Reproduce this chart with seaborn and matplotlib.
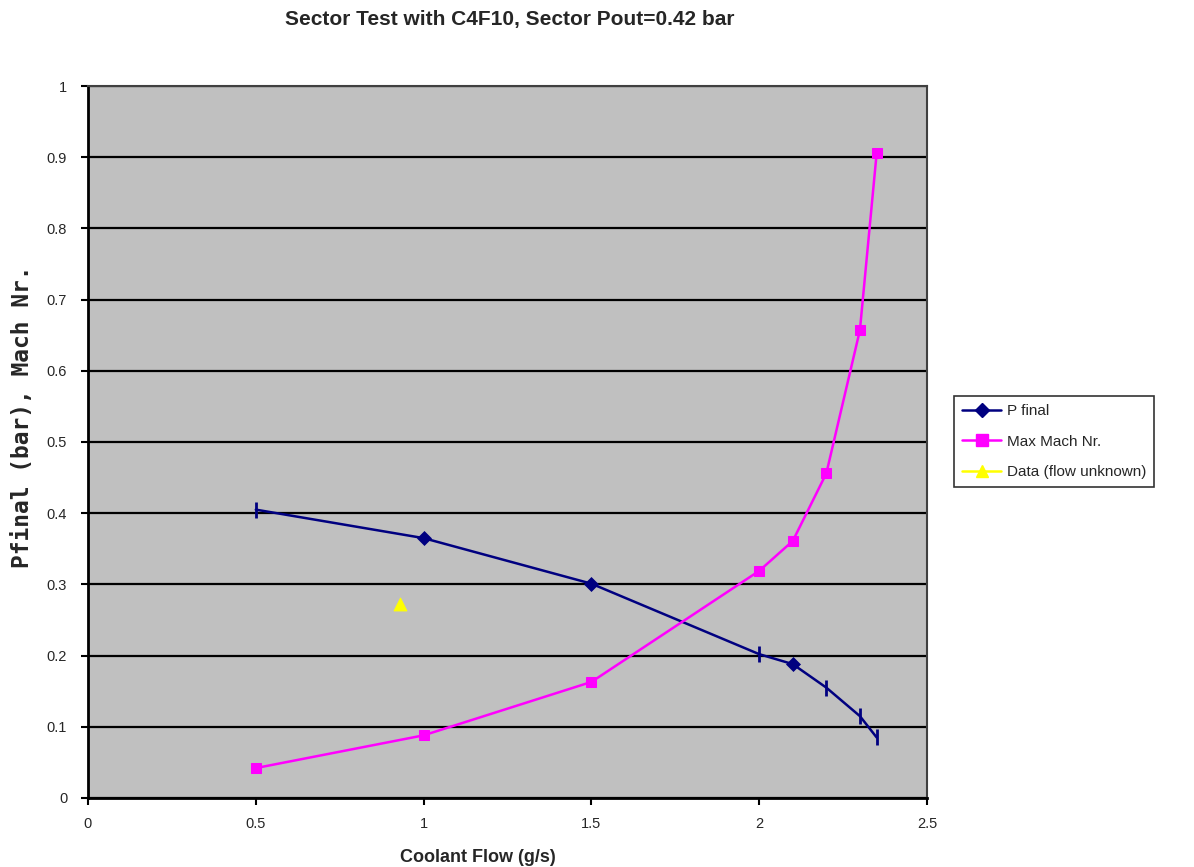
import matplotlib
matplotlib.use("Agg")
import matplotlib.pyplot as plt
from matplotlib.lines import Line2D
import numpy as np
import pandas as pd
import seaborn as sns

# Coolant flow (g/s) and measured/derived quantities
flow = [0.5, 1.0, 1.5, 2.0, 2.1, 2.2, 2.3, 2.35]
p_final = [0.405, 0.365, 0.301, 0.202, 0.188, 0.155, 0.115, 0.085]
max_mach = [0.042, 0.088, 0.163, 0.319, 0.361, 0.456, 0.657, 0.906]
# Points where P final was measured (diamonds) vs. extrapolated (ticks)
p_measured = [False, True, True, False, True, False, False, False]

unknown_flow = [0.93]
unknown_p = [0.272]

x_ticks = [0, 0.5, 1, 1.5, 2, 2.5]
x_tick_labels = ["0", "0.5", "1", "1.5", "2", "2.5"]
y_ticks = [0, 0.1, 0.2, 0.3, 0.4, 0.5, 0.6, 0.7, 0.8, 0.9, 1]
y_tick_labels = ["0", "0.1", "0.2", "0.3", "0.4", "0.5", "0.6", "0.7",
                 "0.8", "0.9", "1"]

df = pd.DataFrame({"flow": flow, "p_final": p_final, "max_mach": max_mach,
                   "measured": p_measured})
df_unknown = pd.DataFrame({"flow": unknown_flow, "p": unknown_p})

sns.set_style("white")
plt.rcParams["font.family"] = ["Liberation Sans", "DejaVu Sans"]

navy = "#000080"
magenta = "#FF00FF"
yellow = "#FFFF00"

fig = plt.figure(figsize=(11.94, 8.67), dpi=100)
ax = fig.add_axes([0.0737, 0.0796, 0.7027, 0.8212])
ax.set_facecolor("#C0C0C0")

# P final curve
sns.lineplot(data=df, x="flow", y="p_final", sort=False, color=navy,
             linewidth=1.8, ax=ax, zorder=3)
sns.scatterplot(data=df[df["measured"]], x="flow", y="p_final", marker="D",
                s=50, color=navy, edgecolor=navy, ax=ax, zorder=4)
sns.scatterplot(data=df[~df["measured"]], x="flow", y="p_final", marker="|",
                s=120, color=navy, linewidth=2, ax=ax, zorder=4)

# Max Mach number curve
sns.lineplot(data=df, x="flow", y="max_mach", sort=False, color=magenta,
             linewidth=1.8, marker="s", markersize=7.5,
             markeredgecolor=magenta, ax=ax, zorder=3)

# Data point with unknown flow
sns.scatterplot(data=df_unknown, x="flow", y="p", marker="^", s=85,
                color=yellow, edgecolor=yellow, ax=ax, zorder=4)

ax.set_xlim(0, 2.5)
ax.set_ylim(0, 1)
ax.set_xticks(x_ticks)
ax.set_xticklabels(x_tick_labels)
ax.set_yticks(y_ticks)
ax.set_yticklabels(y_tick_labels)
ax.yaxis.grid(True, color="black", linewidth=1.6, zorder=1)
ax.xaxis.grid(False)
ax.set_axisbelow(True)
ax.tick_params(axis="x", which="both", direction="out", length=5, width=1.5,
               color="black", labelsize=10.5, pad=9, bottom=True)
ax.tick_params(axis="y", which="both", direction="out", length=5, width=1.5,
               color="black", labelsize=10.5, pad=10, left=True)
for side in ["top", "right"]:
    ax.spines[side].set_color("#404040")
    ax.spines[side].set_linewidth(1.5)
for side in ["left", "bottom"]:
    ax.spines[side].set_color("black")
    ax.spines[side].set_linewidth(2)

ax.set_xlabel("Coolant Flow (g/s)", fontsize=13, fontweight="bold")
ax.xaxis.set_label_coords(0.465, -0.083)
ax.xaxis.label.set_va("center")
ax.set_ylabel("Pfinal (bar), Mach Nr.", fontsize=16.5, fontweight="bold",
              family="DejaVu Sans Mono")
ax.yaxis.set_label_coords(-0.0775, 0.535)
ax.yaxis.label.set_va("center")

fig.text(0.427, 0.977, "Sector Test with C4F10, Sector Pout=0.42 bar",
         fontsize=15, fontweight="bold", ha="center", va="center")

handles = [
    Line2D([], [], color=navy, marker="D", markersize=7, linewidth=1.8),
    Line2D([], [], color=magenta, marker="s", markersize=8, linewidth=1.8),
    Line2D([], [], color=yellow, marker="^", markersize=9, linewidth=1.8),
]
labels = ["P final", "Max Mach Nr.", "Data (flow unknown)"]
leg = fig.legend(handles, labels, loc="upper left",
                 bbox_to_anchor=(0.799, 0.543), fontsize=11, frameon=True,
                 fancybox=False, edgecolor="black", handlelength=2.6,
                 borderpad=0.5, labelspacing=1.1, handletextpad=0.4,
                 borderaxespad=0)
leg.get_frame().set_linewidth(1.2)

fig.savefig("out.png", dpi=100)
